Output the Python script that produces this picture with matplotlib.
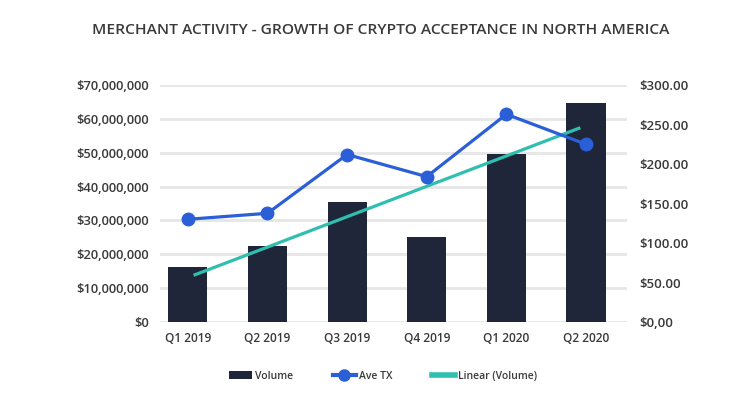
import matplotlib
matplotlib.use("Agg")
import matplotlib.pyplot as plt
import numpy as np
from matplotlib.lines import Line2D
from matplotlib.patches import Patch

plt.rcParams['font.family'] = ['Open Sans', 'DejaVu Sans']

categories = ["Q1 2019", "Q2 2019", "Q3 2019", "Q4 2019", "Q1 2020", "Q2 2020"]
volume = [16.2e6, 22.4e6, 35.4e6, 25.2e6, 49.5e6, 64.8e6]
ave_tx = [130, 137.6, 212, 184, 263, 225]
left_ticks = [0, 10e6, 20e6, 30e6, 40e6, 50e6, 60e6, 70e6]
left_labels = ["$0", "$10,000,000", "$20,000,000", "$30,000,000", "$40,000,000",
               "$50,000,000", "$60,000,000", "$70,000,000"]
right_ticks = [0, 50, 100, 150, 200, 250, 300]
right_labels = ["$0,00", "$50.00", "$100.00", "$150.00", "$200.00", "$250.00", "$300.00"]
title = "MERCHANT ACTIVITY - GROWTH OF CRYPTO ACCEPTANCE IN NORTH AMERICA"

bar_color = "#1f2639"
line_color = "#2b5fd8"
trend_color = "#2fbfb0"
grid_color = "#e6e6e6"
text_color = "#3a3a3a"

fig = plt.figure(figsize=(7.56, 4.11), dpi=100)
ax = fig.add_axes([160/756, 1-322/411, (627-160)/756, (322-85)/411])
x = np.arange(len(categories))

ax.bar(x, volume, width=0.49, color=bar_color, zorder=2)
ax.set_ylim(0, 70e6)
ax.set_xlim(-0.35, 5.515)
ax.set_yticks(left_ticks)
ax.set_yticklabels(left_labels)
ax.set_xticks(x)
ax.set_xticklabels(categories)
ax.yaxis.grid(True, color=grid_color, linewidth=2)
ax.set_axisbelow(True)
for s in ax.spines.values():
    s.set_visible(False)
ax.tick_params(axis='both', length=0, colors=text_color)
ax.tick_params(axis='y', pad=8, labelsize=9.3)
ax.tick_params(axis='x', pad=7, labelsize=8.6)
for lab in ax.get_xticklabels() + ax.get_yticklabels():
    lab.set_fontweight('semibold')

# linear trendline of volume (Excel-style, slightly inset from end categories)
coef = np.polyfit(x, volume, 1)
xt = np.array([x[0] + 0.09, x[-1] - 0.09])
ax.plot(xt, np.polyval(coef, xt), color=trend_color, linewidth=2.3, zorder=3)

ax2 = ax.twinx()
ax2.set_ylim(0, 300)
ax2.set_yticks(right_ticks)
ax2.set_yticklabels(right_labels)
for s in ax2.spines.values():
    s.set_visible(False)
ax2.tick_params(axis='y', length=0, labelsize=9.5, colors=text_color, pad=9)
for lab in ax2.get_yticklabels():
    lab.set_fontweight('semibold')
ax2.plot(x, ave_tx, color=line_color, linewidth=2.3, marker='o', markersize=9, zorder=4)

fig.text(381/756, 1-30/411, title, ha='center', va='center', fontsize=11.15,
         color=text_color, fontweight='semibold')

handles = [Patch(facecolor=bar_color, edgecolor='none'),
           Line2D([], [], color=line_color, linewidth=3, marker='o', markersize=8),
           Line2D([], [], color=trend_color, linewidth=4)]
leg = fig.legend(handles, ["Volume", "Ave TX", "Linear (Volume)"], loc='center',
                 bbox_to_anchor=(383/756, 1-376/411), ncol=3, frameon=False,
                 fontsize=7.5, handlelength=2.2, handletextpad=0.3, columnspacing=3.8)
for t in leg.get_texts():
    t.set_color(text_color)
    t.set_fontweight('semibold')

fig.savefig("out.png", dpi=100, facecolor='white')
